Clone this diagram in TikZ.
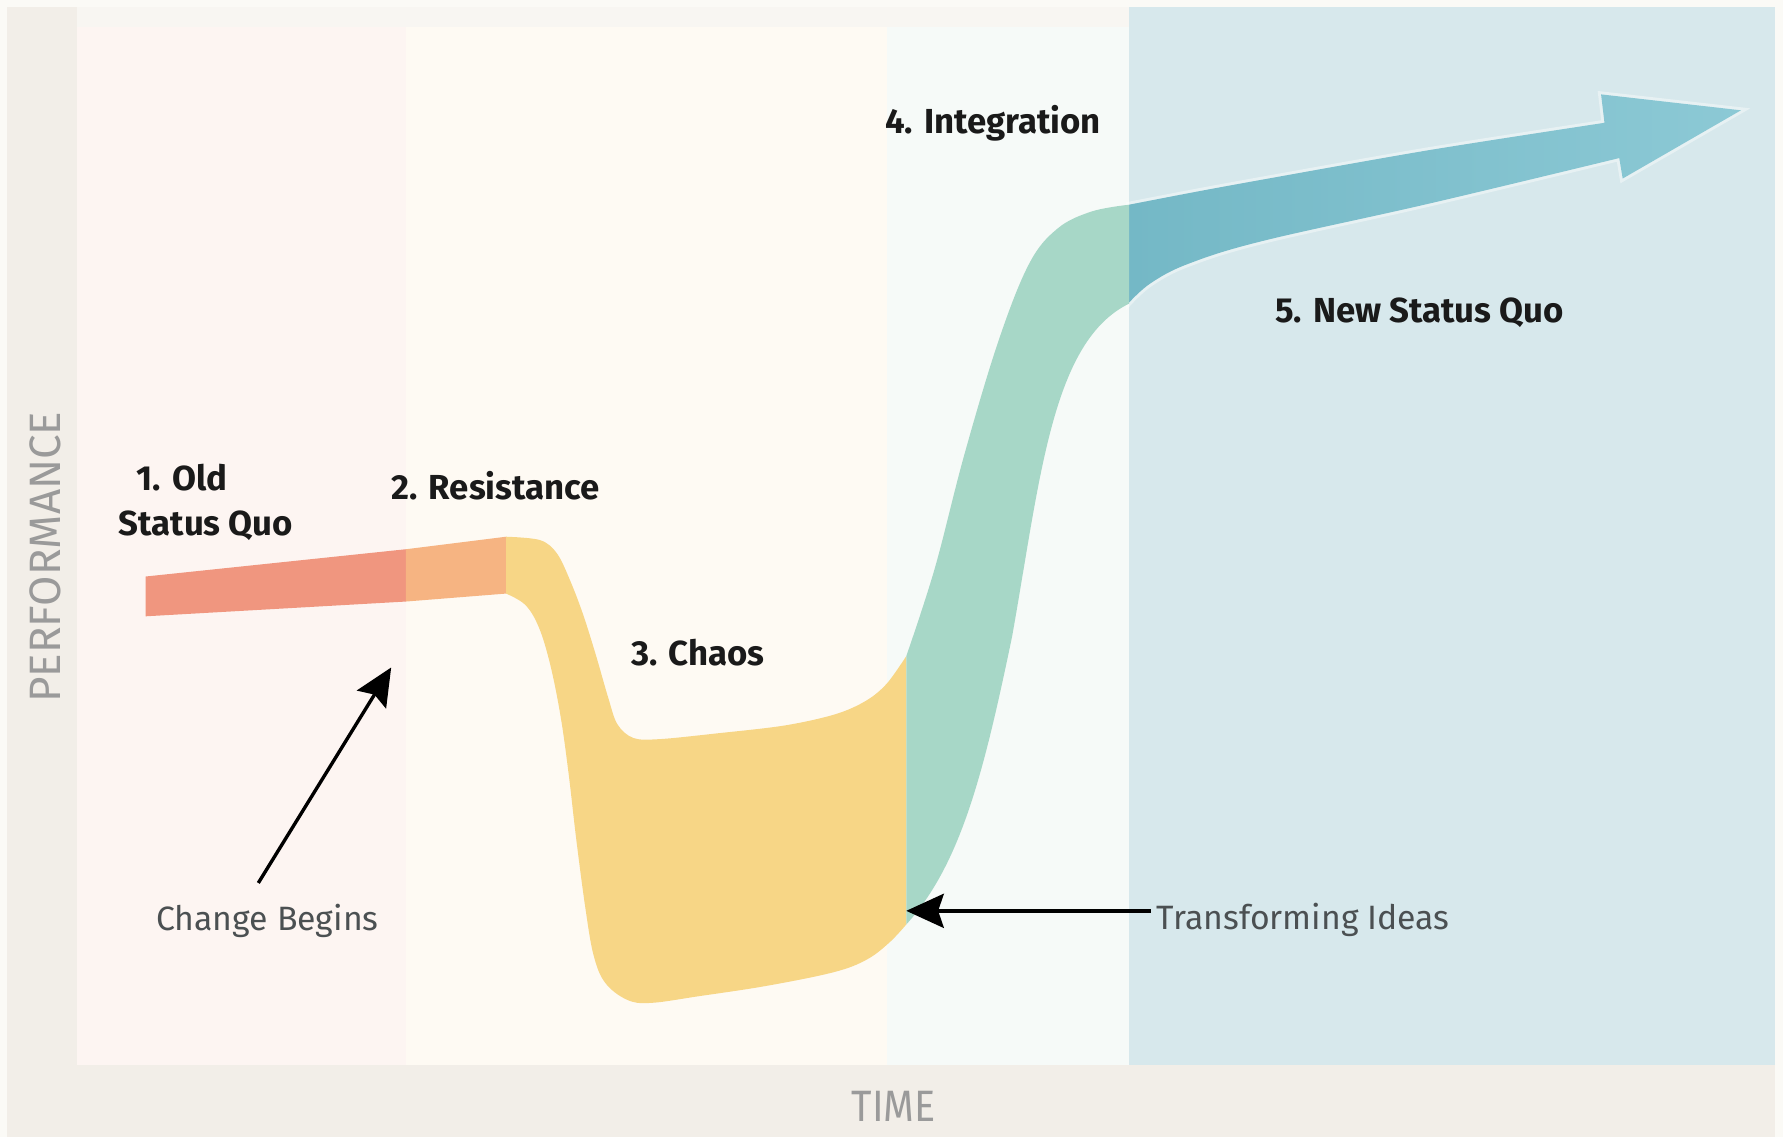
\documentclass[tikz,border=0pt]{standalone}
\usepackage{fontspec}
\usepackage{xcolor}
\setmainfont{Fira Sans}
\newfontfamily\axisfont[FakeStretch=0.9]{Fira Sans}
\usetikzlibrary{arrows.meta}

\definecolor{pagebg}{HTML}{FBFAF6}
\definecolor{framebg}{HTML}{F2EEE8}
\definecolor{topstrip}{HTML}{F8F6F2}
\definecolor{zoneold}{HTML}{FDF5F2}
\definecolor{zonemid}{HTML}{FEFAF3}
\definecolor{zonemint}{HTML}{F6FAF8}
\definecolor{zonenew}{HTML}{D7E8EC}
\definecolor{oldc}{HTML}{F0967F}
\definecolor{resistc}{HTML}{F6B482}
\definecolor{chaosc}{HTML}{F7D686}
\definecolor{integc}{HTML}{A7D7C7}
\definecolor{newcL}{HTML}{74B8C6}
\definecolor{newcR}{HTML}{8CC9D5}
\definecolor{stagetext}{HTML}{1A1A1A}
\definecolor{notetext}{HTML}{4B5052}
\definecolor{axistext}{HTML}{9A9A9A}

\begin{document}
\begin{tikzpicture}[x=0.02cm, y=-0.02cm,
  stage/.style={font=\bfseries\fontsize{17.4}{21}\selectfont, text=stagetext, inner sep=0pt, anchor=base west},
  note/.style={font=\fontsize{16.9}{20}\selectfont, text=notetext, inner sep=0pt, anchor=base west},
  axis/.style={font=\fontsize{22}{26}\selectfont, text=axistext, inner sep=0pt},
  pointer/.style={line width=1.7pt, draw=black, -{Stealth[length=0.66cm, width=0.6cm, inset=0.1cm]}},
  halo/.style={preaction={draw=white, line width=3pt, opacity=0.4}}
]
\useasboundingbox (0,0) rectangle (1568,1000);

% Background and zones
\fill[pagebg] (0,0) rectangle (1568,1000);
\fill[framebg] (6,6) rectangle (1561,1000);
\fill[topstrip] (68,6) rectangle (993,24);
\fill[zoneold] (68,24) rectangle (357,937);
\fill[zonemid] (357,24) rectangle (780,937);
\fill[zonemint] (780,24) rectangle (993,937);
\fill[zonenew] (993,6) rectangle (1561,937);

% 5. New status quo (arrow)
\shade[halo, left color=newcL, right color=newcR]
  plot[smooth, tension=0.5] coordinates {(993,180) (1050,169) (1110,158) (1257,132) (1411,108)}
  -- (1408,83) -- (1531,97) -- (1427,157) -- (1424,139)
  -- plot[smooth, tension=0.6] coordinates {(1424,139) (1257,179) (1110,212) (1045,232) (1012,249) (993,266)}
  -- cycle;

% 1. Old status quo
\fill[oldc] (128,507) -- (357,483) -- (357,529) -- (128,542) -- cycle;
% 2. Resistance
\fill[resistc] (357,483) -- (445,472) -- (445,522) -- (357,529) -- cycle;
% 3. Chaos
\fill[chaosc]
  plot[smooth, tension=0.55] coordinates {(445,472) (475,475) (490,487) (502,512) (513,541) (524,576) (535,614) (543,637) (557,649) (580,650) (630,645) (690,638) (735,628) (762,616) (780,601) (797,577)}
  -- plot[smooth, tension=0.6] coordinates {(797,813) (782,829) (762,844) (733,855) (674,867) (615,876) (572,882) (551,879) (532,864) (522,840) (515,800) (507,740) (500,680) (493,630) (484,585) (474,552) (462,532) (445,522)}
  -- cycle;
% 4. Integration
\fill[integc] (797,577) -- (797,813)
  .. controls (845,760) and (865,680) .. (890,560)
  .. controls (915,420) and (925,300) .. (993,267)
  -- (993,180)
  -- plot[smooth, tension=0.6] coordinates {(993,180) (960,186) (930,201) (905,232) (878,300) (848,400) (822,500) (797,577)}
  -- cycle;

% Stage labels
\node[stage] (old1) at (120,431) {1. Old};
\node[stage] (old2) at (104,471) {Status Quo};
\node[stage] (resist) at (344,439) {2. Resistance};
\node[stage] (chaos) at (555,585) {3. Chaos};
\node[stage] (integ) at (778,117) {4. Integration};
\node[stage] (newsq) at (1121,284) {5. New Status Quo};

% Notes and pointers
\node[note] (chg) at (137,818) {Change Begins};
\node[note] (tfi) at (1017,817) {Transforming Ideas};
\coordinate (cbTip) at (344,587);
\coordinate (tiTip) at (797,801);
\draw[pointer] ([xshift=-0.16cm, yshift=0.36cm]chg.north) -- (cbTip);
\draw[pointer] ([xshift=-0.1cm]tfi.west |- tiTip) -- (tiTip);

% Axes
\node[axis, rotate=90] (perf) at (40,490) {PERFORMANCE};
\node[axis, font=\axisfont\fontsize{22}{26}\selectfont] (time) at (786,973) {TIME};

\end{tikzpicture}
\end{document}
